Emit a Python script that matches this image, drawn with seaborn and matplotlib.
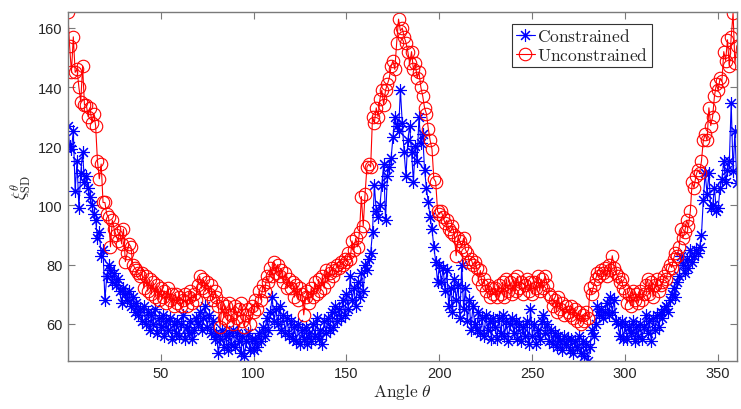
import numpy as np
import pandas as pd
import matplotlib
matplotlib.use("Agg")
import matplotlib.pyplot as plt
import seaborn as sns

# angle grid, one sample per degree
angles = np.arange(0, 361)

# Unconstrained (red circles), rows of 10 degrees
unconstrained = [
    165.5, 154, 145, 157, 145, 146, 140, 135, 147, 134,
    134, 130, 133, 128, 131, 127, 115, 109, 114, 101,
    101, 97, 96, 86, 95, 92, 90, 88, 91, 87,
    92, 81, 84, 87, 86, 80, 79, 78, 77, 76,
    77, 72, 76, 71, 75, 70, 74, 69, 73, 68,
    72, 69, 71, 67, 72, 68, 70, 66, 70, 67,
    69, 66, 68, 70, 66, 69, 71, 67, 70, 68,
    73, 76, 72, 75, 71, 74, 70, 73, 68, 71,
    69, 66, 59, 67, 62, 66, 61, 67, 63, 60,
    66, 62, 65, 67, 61, 59, 63, 65, 60, 66,
    64, 68, 65, 71, 68, 73, 71, 76, 74, 79,
    76, 81, 77, 80, 76, 78, 74, 77, 72, 75,
    72, 74, 69, 73, 68, 72, 70, 63, 69, 71,
    67, 72, 69, 74, 70, 75, 71, 76, 72, 78,
    74, 77, 79, 76, 78, 80, 79, 81, 80, 82,
    81, 84, 82, 88, 85, 89, 86, 91, 103, 93,
    104, 113, 114, 113, 130, 128, 133, 130, 136, 139,
    134, 139, 141, 143, 147, 149, 146, 155, 163, 159,
    160, 157, 155, 152, 148, 152, 146, 148, 143, 145,
    140, 137, 133, 131, 126, 122, 119, 109, 108, 98,
    97, 98, 96, 94, 95, 92, 91, 93, 90, 83,
    89, 88, 86, 89, 85, 84, 81, 82, 80, 81,
    79, 75, 78, 73, 75, 71, 73, 69, 72, 70,
    72, 69, 73, 70, 74, 69, 75, 71, 74, 70,
    75, 71, 76, 72, 74, 70, 73, 75, 71, 74,
    70, 74, 72, 76, 71, 75, 72, 76, 73, 70,
    69, 66, 68, 64, 69, 65, 67, 63, 66, 64,
    63, 66, 62, 65, 61, 64, 60, 63, 61, 64,
    62, 72, 70, 73, 75, 77, 76, 78, 77, 79,
    76, 80, 78, 83, 79, 77, 76, 74, 75, 72,
    71, 67, 70, 66, 71, 68, 70, 67, 71, 68,
    70, 73, 75, 70, 74, 69, 73, 75, 71, 73,
    74, 76, 75, 78, 80, 79, 82, 84, 83, 86,
    92, 89, 91, 95, 93, 98, 108, 106, 110, 112,
    111, 115, 122, 124, 122, 133, 127, 130, 137, 141,
    139, 143, 142, 152, 149, 156, 147, 157, 165, 148,
    154,
]

# Constrained (blue asterisks)
constrained = [
    127, 120, 119, 125, 105, 115, 99, 111, 118, 108,
    110, 106, 103, 100, 97, 95, 89, 91, 83, 85,
    68, 76, 80, 78, 74, 77, 73, 75, 71, 67,
    72, 70, 68, 71, 66, 69, 64, 67, 63, 65,
    61, 66, 60, 64, 58, 63, 60, 65, 57, 62,
    59, 63, 56, 61, 58, 62, 55, 60, 57, 61,
    56, 60, 63, 55, 59, 57, 61, 55, 58, 62,
    60, 64, 58, 62, 66, 59, 63, 57, 61, 55,
    57, 50, 55, 58, 52, 56, 51, 57, 53, 58,
    52, 57, 54, 50, 56, 49, 54, 57, 51, 55,
    51, 55, 52, 57, 54, 59, 56, 62, 58, 64,
    69, 61, 65, 60, 66, 58, 63, 57, 62, 56,
    61, 55, 59, 54, 60, 53, 58, 55, 59, 53,
    57, 54, 60, 56, 62, 55, 58, 53, 61, 57,
    62, 58, 64, 59, 66, 61, 65, 62, 68, 63,
    70, 65, 76, 68, 72, 66, 74, 69, 77, 71,
    80, 78, 82, 84, 91, 107, 98, 96, 100, 107,
    114, 95, 110, 113, 116, 123, 130, 127, 125, 139,
    128, 118, 110, 122, 127, 118, 108, 120, 115, 130,
    121, 124, 112, 106, 101, 96, 92, 86, 81, 74,
    80, 74, 79, 71, 78, 66, 72, 64, 75, 68,
    73, 62, 80, 65, 72, 61, 68, 58, 66, 60,
    58, 64, 57, 62, 56, 63, 58, 61, 55, 62,
    59, 55, 62, 57, 63, 56, 61, 54, 60, 62,
    57, 61, 55, 60, 54, 59, 56, 61, 53, 65,
    56, 60, 53, 58, 55, 61, 63, 57, 60, 54,
    58, 53, 57, 52, 56, 54, 51, 56, 53, 55,
    51, 55, 50, 54, 52, 56, 50, 54, 49, 53,
    47.5, 52, 58, 56, 60, 66, 63, 65, 62, 64,
    67, 63, 69, 64, 68, 61, 60, 56, 61, 55,
    60, 55, 59, 57, 61, 54, 59, 56, 60, 55,
    59, 63, 57, 61, 54, 62, 58, 63, 59, 64,
    62, 65, 66, 64, 68, 70, 72, 69, 74, 76,
    83, 80, 77, 82, 79, 85, 81, 83, 85, 84,
    86, 90, 102, 111, 104, 111, 99, 100, 106, 98,
    99, 106, 109, 115, 108, 112, 115, 134.6, 111.5, 125,
    107.5,
]

x_ticks = [50, 100, 150, 200, 250, 300, 350]
y_ticks = [60, 80, 100, 120, 140, 160]

assert len(unconstrained) == len(angles) and len(constrained) == len(angles)

df = pd.DataFrame({"angle": angles, "Constrained": constrained,
                   "Unconstrained": unconstrained})

sns.set_style("white")
plt.rcParams['font.family'] = ['Liberation Sans', 'DejaVu Sans']
plt.rcParams['mathtext.fontset'] = 'cm'

fig = plt.figure(figsize=(7.41, 4.10), dpi=100)
ax = fig.add_axes([0.0914, 0.1178, 0.9029, 0.8512])

asterisk = (8, 2, 0)
sns.lineplot(data=df, x="angle", y="Constrained", ax=ax, color="#0000ff",
             linewidth=0.8, marker=asterisk, markersize=9,
             markeredgecolor="#0000ff", markeredgewidth=0.8,
             label=r"$\mathrm{Constrained}$")
sns.lineplot(data=df, x="angle", y="Unconstrained", ax=ax, color="#ff0000",
             linewidth=0.8, marker="o", markersize=9,
             markerfacecolor="none", markeredgecolor="#ff0000",
             markeredgewidth=0.8, label=r"$\mathrm{Unconstrained}$")

ax.set_xlim(0, 360)
ax.set_ylim(min(constrained), max(unconstrained))
ax.set_xticks(x_ticks)
ax.set_yticks(y_ticks)

ax.set_xlabel(r"$\mathrm{Angle}\ \theta$", fontsize=12.5, labelpad=1)
ax.set_ylabel(r"$\xi_{\mathrm{SD}}^{\theta}$", fontsize=12.5, labelpad=4)

for s in ax.spines.values():
    s.set_visible(True)
    s.set_color("#7a7a7a")
    s.set_linewidth(1.0)
ax.tick_params(direction="in", length=5, width=0.8, color="#7a7a7a",
               labelsize=10.5, labelcolor="#262626",
               top=True, right=True, bottom=True, left=True)

leg = ax.legend(loc="upper right", bbox_to_anchor=(0.8734, 0.9648),
                borderaxespad=0, fontsize=12.5, fancybox=False, framealpha=1,
                edgecolor="#333333", handlelength=1.1, handletextpad=0.15,
                borderpad=0.2, labelspacing=0.1)
leg.get_frame().set_linewidth(0.8)

fig.savefig("out.png", dpi=100)
